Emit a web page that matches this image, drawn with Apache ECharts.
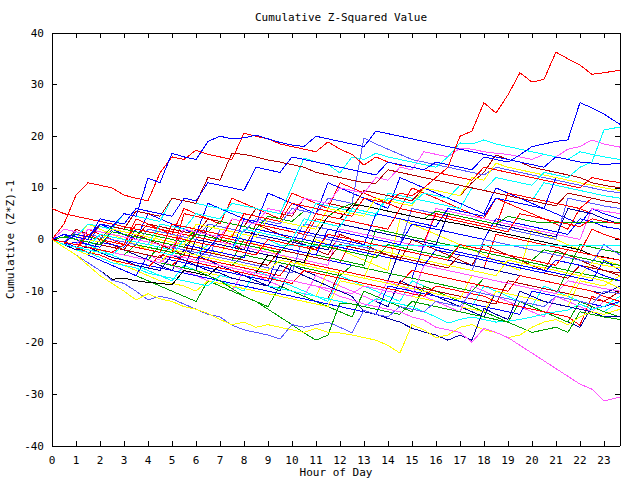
<!DOCTYPE html>
<html>
<head>
<meta charset="utf-8">
<script src="https://cdn.jsdelivr.net/npm/echarts@6/dist/echarts.min.js"></script>
<style>
  html, body { margin: 0; padding: 0; background: #fff; }
  #chart { width: 640px; height: 480px; }
  /* the original is drawn without anti-aliasing */
  #chart svg path { shape-rendering: crispEdges; }
</style>
</head>
<body>
<div id="chart"></div>
<script>
// hour of day for each sample
const hours = [0, 0.5, 1, 1.5, 2, 2.5, 3, 3.5, 4, 4.5, 5, 5.5, 6, 6.5, 7, 7.5,
  8, 8.5, 9, 9.5, 10, 10.5, 11, 11.5, 12, 12.5, 13, 13.5, 14, 14.5, 15, 15.5,
  16, 16.5, 17, 17.5, 18, 18.5, 19, 19.5, 20, 20.5, 21, 21.5, 22, 22.5, 23, 23.67]

const yTicks = [-40, -30, -20, -10, 0, 10, 20, 30, 40]

// cumulative (z*z)-1 per run
const run01 = [0, -0.5, -1, -1.5, -2, -2.5, -1, -1.5, -2, -2.5, 3, 2.5, 2, 1.5, 1, 0.5, 5, 4.5, 4, 3.5, 7, 6.5, 6, 5.5, 5, 4.5, 8, 7.5, 7, 9, 8.5, 10, 12, 14, 20, 21, 26.5, 24.5, 28, 32.3, 30.5, 31, 36.3, 35, 33.8, 32, 32.3, 32.8]
const run02 = [0, 1, 0.5, 0, 4, 3.5, 3, 6, 5.5, 5, 4.5, 8, 7.5, 11, 10.5, 10, 9.5, 14, 13.5, 13, 16, 15.5, 15, 14.5, 14, 13.5, 13, 12.5, 15, 14.5, 14, 13.5, 15, 14.5, 14, 13.5, 16, 15.5, 15, 16.4, 18, 18.5, 19, 19.3, 26.5, 25.5, 24.3, 22.3]
const run03 = [0, -0.5, -1, -1.5, -2, -2.5, -3, -3.5, -4, -4.5, -3, -3.5, -4, -4.5, -5, -5.5, -6, -6.5, -7, -7.5, -8, -8.5, -9, -10, -11, -11.7, -12.5, -13, -13.5, -14, -15, -15.6, -17, -17.5, -18, -19.9, -17.2, -18, -19, -20.5, -22, -23.5, -25, -26.5, -28, -29, -31.3, -30.5]
const run04 = [0, -1.5, -3, -5, -7, -8.5, -10, -11.7, -10.5, -11.5, -12, -13, -13.5, -14.3, -15.5, -16.5, -16, -17, -16.5, -17, -17.5, -18, -17.2, -18, -18.1, -18.5, -19, -19.5, -20.5, -22, -16.5, -17.5, -19, -18.5, -17, -16.5, -17.5, -18, -19, -18.5, -17, -16, -15.5, -16.5, -15, -14, -14.5, -13.5]
const run05 = [0, -0.5, 1, 0.5, 3, 2.5, 5, 4.5, 11.9, 11, 16.7, 16, 15.5, 19, 20, 19.5, 19.7, 20.2, 19.5, 18.8, 18.3, 18, 20, 19.5, 19, 18.5, 18, 21, 20.5, 20, 19.5, 19, 18.5, 18, 17.5, 17, 16.5, 16, 15.5, 15, 14.5, 14, 16, 15.5, 15, 14.8, 14.5, 14.8]
const run06 = [6, 5, 4.5, 4, 3.5, 3, 2.5, 2, 1.5, 1, 0.5, 0, -0.5, -1, -1.5, -2, -2.5, -3, 0, -0.5, -1, -1.5, -2, 1, 0.5, 0, -0.5, -1, -1.5, -2, -2.5, -3, -3.5, -4, -1, -1.5, -2, -2.5, -3, -3.5, -4, -4.5, -5, -2, -2.5, -3, -3.5, -4]
const run07 = [0, 3, 8.6, 11, 10.5, 10, 8.6, 8, 7.5, 12.9, 16, 15.5, 17.3, 16.5, 16, 15.5, 20.6, 20, 19.5, 18.5, 18, 17.5, 17, 18.9, 17.5, 16.5, 14.4, 16, 15, 14.4, 14, 13.5, 13, 12.5, 12, 11.5, 14, 13.5, 13, 12.5, 12, 11.5, 11, 10.5, 10, 12, 11.5, 11]
const run08 = [0, 1, 0.5, 0, 3, 2.5, 2, 5.5, 5, 4.5, 8, 7.5, 7, 12, 11.5, 16.7, 16.5, 16, 15.4, 15, 14.5, 14, 13, 12.5, 12, 11.5, 11, 10.9, 13.5, 13, 12.5, 12, 11.5, 11, 10.5, 10, 9.5, 9, 8.5, 8, 7.5, 7, 6.5, 9, 8.5, 8, 7.5, 7]
const run09 = [0, -0.5, -1, -1.5, 1, 0.5, 0, -0.5, -1, 3, 2.5, 2, 5, 4.5, 4, 7, 6.5, 6, 5.5, 5, 10.2, 15.8, 15, 14.5, 12.9, 16, 15.5, 16.7, 16, 15.5, 15, 14.5, 14, 16, 18.7, 18.5, 19.3, 18.5, 18, 17.5, 17, 16.5, 16, 15.5, 17, 16.5, 16, 15.5]
const run10 = [0, -1, -1.5, -2, -2.5, -3, -1, -1.5, -2, -2.5, -3, 0, -0.5, -1, -1.5, -2, 2, 1.5, 1, 0.5, 0, 4, 3.5, 3, 2.5, 6, 5.5, 5, 8, 7.5, 7, 9, 8.5, 8, 10.5, 10, 9.5, 12, 11.5, 11, 10.5, 13, 12.5, 12, 14, 15, 21.2, 21.8]
const run11 = [0, -0.5, -1, 2, 1.5, 1, 0.5, 0, -0.5, -1, -1.5, 2, 1.5, 1, 0.5, 4, 3.5, 3, 6, 5.5, 5, 8, 7.5, 7, 10, 9.5, 9, 12, 11.5, 14, 13.5, 17, 16.5, 16, 17.7, 17.5, 17, 16.7, 16.5, 16, 15.5, 16.5, 16, 17.5, 18, 19.3, 18.5, 17.9]
const run12 = [0, -1.5, -3, -4.5, -6, -7.9, -8.5, -10, -11.7, -11, -11.5, -12.5, -13.5, -14.5, -15, -16.6, -17.5, -18, -18.5, -19.3, -16.5, -17, -16.5, -16, -17, -18.1, -13.7, -14.5, -15, -13, -13.5, -14, -12, -12.5, -13, -10, -10.5, -11, -11.5, -12, -12.5, -13, -11, -11.5, -12, -12.5, -10, -10.5]
const run13 = [0, -0.5, -1, -1.5, -2, -2.5, -3, -3.5, -4, -4.5, -5, -5.5, -6, -7, -8, -9.5, -11, -12, -13.5, -15, -16.5, -18.1, -19.5, -18.5, -12.3, -12.5, -13, -13.5, -14, -14.5, -12, -12.5, -13, -13.5, -14, -14.5, -15, -15.5, -16, -17, -18, -17.5, -17, -18, -14, -14.5, -15, -15.5]
const run14 = [0, -1, -2, -1.5, -2.5, -3.5, -4, -5, -5.5, -6, -3, -4, -5, -6, -6.5, -7.5, -8, -8.5, -9, -5, -6, -7, -8, -9, -10, -11, -14, -14.5, -15.3, -16, -17.2, -17.9, -18.5, -19.5, -18.5, -19.5, -13.3, -14.5, -15.5, -10, -11, -12, -12.5, -13, -13.5, -14, -15, -15]
const run15 = [0, 0.5, 0, -0.5, -1, 1.5, 1, 0.5, 0, -0.5, -1, -1.5, 1, 0.5, 0, -0.5, -1, -1.5, -2, -2.5, 0, -0.5, -1, -1.5, -2, -2.5, -3, -3.5, -1, -1.5, -2, -2.5, -3, -3.5, -1, -1.5, -2, -2.5, -3, -3.5, -4, -2, -2.5, -3, -3.5, -4, -4.5, -5]
const run16 = [0, -1, -2, 1, 0, -0.5, -1, 3, 2.5, 2, 1.5, 1, 0.5, 0, -0.5, 4, 3.5, 3, 2.5, 2, 1.5, 1, 5, 4.5, 4, 3.5, 3, 2.5, 2, 6, 5.5, 5, 4.5, 4, 3.5, 3, 2.5, 2, 1.5, 5, 4.5, 4, 3.5, 3, 2.5, 4, 3.5, 3]
const run17 = [0, -0.5, -1, -1.5, -2, -2.5, -1, -1.5, -2, -2.5, -3, -3.5, -4, -2, -2.5, -3, -3.5, 2, 1.5, 1, 0.5, 0, -0.5, -1, -1.5, -2, -2.5, -3, -3.5, -4, -4.5, -5, -2, -2.5, -3, -3.5, -4, -4.5, -5, -5.5, -6, -6.5, -4, -4.5, -5, -6, -7, -8]
const run18 = [0, -0.5, -1, -1.5, -2, -2.5, -3, -3.5, -4, -4.5, -2, -2.5, -3, -3.5, -4, -4.5, -5, -5.5, -6, -4, -4.5, -5, -5.5, -6, -6.5, -7, -7.5, -2, -2.5, -3, -3.5, -4, -4.5, -5, -5.5, -6, -6.5, -7, -4, -4.5, -5, -5.5, -6, -6.5, -7, -4.5, -5, -5.5]
const run19 = [0, 1, 0.5, 0, -0.5, 2, 1.5, 1, 0.5, 0, -0.5, -1, 3, 2.5, 2, 1.5, 1, 0.5, 4, 3.5, 3, 2.5, 2, 6, 5.5, 5, 4.5, 8, 7.5, 7, 6.5, 10, 9.5, 9, 8.5, 12, 11.5, 14.8, 14, 13.5, 13, 12.5, 12, 11.5, 11, 10.5, 10, 9.5]
const run20 = [0, -0.5, -1, -1.5, 1, 0.5, 0, -0.5, -1, -1.5, -2, -2.5, -3, -1, -1.5, -2, -2.5, -3, 0, -1.1, -1.1, -1.1, -1.1, -1.1, -1.1, -1.1, -1.1, -1.1, -1.1, -1.1, -1.1, -1.1, -1.1, -1.1, -1.1, -1.1, -1.1, -1.1, -1.1, -1.1, -1.1, -1.1, -1.1, -1.1, -1.1, -1.1, -1.1, -1.1]
const run21 = [0, -1.5, -3, -4.5, -6, -7.7, -7.5, -8, -8.3, -8.5, -8.8, -6, -6.5, -7, -5, -5.5, -6, -6.5, -3, -3.5, -4, -4.5, 0.9, 4.5, 4, 6.7, 6.5, 6, 5.5, 5, 4.5, 4, 3.8, 3.4, 3, 2.5, 2, 1.5, 1, 0.5, 0, -0.5, -1, -1.5, -2, -3, -3.4, -4]
const run22 = [0, 0.5, 0, -0.5, -1, -1.5, -2, -2.5, -3, -3.5, -1, -1.5, -2, -2.5, -3, -3.5, -4, -4.5, -5, -2, -2.5, -3, -3.5, -4, -1, -1.5, -2, -2.5, -3, -3.5, -4, -4.5, -5, -5.5, -3, -3.5, -4, -4.5, -5, -5.5, -6, -6.5, -7, -7.5, -5, -5.5, -6, -6.5]
const run23 = [0, -0.5, -1, 1, 0.5, 0, -0.5, -1, 2, 1.5, 1, 0.5, 0, 3, 2.5, 2, 1.5, 4, 3.5, 3, 6, 5.5, 5, 8, 7.5, 7, 19.7, 18.5, 17.5, 16.5, 15.5, 15, 14.5, 14, 13.5, 13, 12.5, 14, 13.5, 13, 12.5, 12, 11.5, 11, 10.5, 10, 9.5, 9]
const run24 = [0, 0.5, 1, 0.5, 0, 2.5, 2, 1.5, 1, 0.5, 0, -0.5, 2, 1.5, 3.5, 3, 2.5, 2, 4.5, 4, 3.5, 5.5, 5, 4.5, 6, 7, 6.5, 6, 5.5, 5, 4.5, 4, 5.5, 5, 4.5, 4, 3.5, 3, 4.5, 4, 3.5, 3.2, 3.2, 3.2, 3.2, 3.2, 3.2, 3.2]
const run25 = [0, -0.5, -1, -1.5, -2, -2.5, -3, -3.5, -4, -4.5, -5, -3, -3.5, -4, -4.5, -5, -5.5, -6, -6.5, -7, -4, -4.5, -5, -5.5, -6, -6.5, -7, -7.5, -8, -8.5, -6, -6.5, -7, -7.5, -8, -8.5, -9, -9.5, -10, -7, -7.5, -8, -8.5, -9, -9.5, -10, -11, -12]
const run26 = [0, -1, -0.5, -1, -1.5, 2, 1.5, 1, 0.5, 0, -0.5, -1, -1.5, -2, 1, 0.5, 0, -0.5, -1, -1.5, -2, -2.5, -3, 2, 1.5, 1, 0.5, 0, -0.5, -1, 3, 2.5, 2, 1.5, 1, 0.5, 0, 4, 3.5, 3, 2.5, 2, 1.5, 1, 4, 3.5, 2.5, 2]
const run27 = [0, -0.5, -1, -1.5, -2, -2.5, -1, -1.5, -2, -2.5, -3, -3.5, -4, -4.5, -5, -5.5, -6, -6.5, -7, -7.5, -8, -8.5, -9, -9.5, -10, -10.5, -9, -9.5, -10, -10.5, -11, -5, -5.5, -6, -6.5, -7, -7.5, -8, -8.5, -9, -9.5, -10, -10.5, -8, -8.5, -9, -9.5, -10]
const run28 = [0, -1, -2, -2.5, -3.5, -4.5, -5, -5.5, -6.5, -7, -7.5, -8, -8.5, -9, -7, -7.5, -8, -8.5, -9, -9.5, -10, -10.5, -11, -11.5, -12, -12.5, -13, -11.5, -12, -12.5, -13, -14, -15, -16.2, -15.5, -15, -15.5, -16, -15.8, -15.5, -15, -14.5, -14, -13.7, -12.5, -13.5, -13, -11]
const run29 = [0, 0.5, 0, -0.5, -1, 1.5, 1, 0.5, 3, 2.5, 2, 1.5, 1, 4, 3.5, 3, 2.5, 6, 5.5, 5, 4.5, 8, 7.5, 7, 6.5, 6, 9.5, 9, 8.5, 8, 7.5, 10, 9.5, 9, 8.5, 11, 13, 16.4, 15.5, 15, 14, 13.5, 13, 12.5, 12, 11, 10.5, 10]
const run30 = [0, -1, -1.5, -2.5, -3, -4, -4.5, -5, -5.5, -3, -3.5, -4, -4.5, -5, -5.5, -6, -6.5, -7, -7.5, -8, -8.5, -6, -6.5, -7, -7.5, -8, -8.5, -9, -9.5, -10, -10.5, -11, -9, -9.5, -10, -10.5, -11, -12, -12.5, -13, -13.5, -14, -14.5, -15, -16.6, -11, -12, -13]
const run31 = [0, -0.5, -1, -1.5, -2, -2.5, -3, -1, -1.5, -2, -2.5, -3, -3.5, -4, -4.5, -5, -3, -3.5, -4, -4.5, -5, -5.5, -6, -6.5, -7, -5, -5.5, -6, -6.5, -7, -7.5, -8, -8.5, -9, -9.5, -10, -7.5, -8, -8.5, -9, -9.5, -10, -10.5, -6, -6.5, -7, -7.5, -8]
const run32 = [0, -1, -2, -3, -2, -2.5, -3, -3.5, -4, -4.5, -5, -5.5, -6, -6.5, -7, -7.5, -8, -8.5, -9, -9.5, -10, -10.5, -11, -6, -6.5, -7, -7.5, -8, -8.5, -9, -9.5, -10, -10.5, -11, -11.5, -7, -7.5, -8, -8.5, -9, -9.5, -10, -10.5, -11, -7, -7.5, -8, -9.5]
const run33 = [0, 1, 0.5, 0, -0.5, -1, -1.5, 2, 1.5, 1, 0.5, 0, -0.5, -1, -1.5, -2, 4, 3.5, 3, 2.5, 2, 1.5, 1, 0.5, 0, -0.5, -1, 5, 4.5, 4, 3.5, 3, 2.5, 6, 5.5, 5, 4.5, 8, 7.5, 7, 6.5, 6, 12, 11.5, 11, 10.5, 10, 9.5]
const run34 = [0, -0.5, -1, -1.5, -2, -2.5, -3, -3.5, -4, -4.5, -5, -5.5, -6, 3, 2.5, 2, 1.5, 1, 0.5, 0, -0.5, -1, -1.5, -2, 3, 2.5, 2, 1.5, 1, 0.5, 0, -0.5, -1, 5, 4.5, 4, 3.5, 3, 2.5, 2, 1.5, 1, 0.5, 6, 5.5, 5, 4, 3]
const run35 = [0, -0.5, -1, 2, 1.5, 1, 0.5, 0, -0.5, -1, -1.5, -2, -2.5, -3, -3.5, -4, -4.5, -5, -5.5, -6, -6.5, 1, 0.5, 0, -0.5, -1, -1.5, -2, -2.5, -3, -3.5, -4, -4.5, -5, -5.5, -6, 0, -0.5, -1, -1.5, -2, -2.5, -3, -3.5, -4, -4.5, -1, -3]
const run36 = [0, 0.5, 1, 0.5, 0, -0.5, -1, -1.5, -2, -2.5, -3, 5, 4.5, 4, 3.5, 3, 2.5, 2, 1.5, 1, 0.5, 0, 4, 3.5, 3, 2.5, 2, 1.5, 1, 0.5, 0, -0.5, 5, 4.5, 4, 3.5, 3, 2.5, 9, 8.5, 8, 7.5, 7, 6.5, 6, 8, 7.5, 7]
const run37 = [0, 2, 1.5, 1, 0.5, 0, -0.5, -1, -1.5, -2, -2.5, 1, 0.5, 0, -0.5, -1, -1.5, -2, -2.5, -3, -3.5, -4, -4.5, -5, 2, 1.5, 1, 0.5, 0, -0.5, -1, -1.5, 6, 5.5, 5, 4.5, 4, 3.5, 3, 2.5, 2, 1.5, 1, 0.5, 0, 6, 5.5, 5]
const run38 = [0, -0.5, -1, -1.5, -2, -2.5, -3, -3.5, -4, -1, -1.5, -2, -2.5, -3, -3.5, -4, 0, -0.5, -1, -1.5, -2, -2.5, -3, -3.5, -4, -4.5, -5, 2, 1.5, 1, 0.5, 0, -0.5, -1, -1.5, -2, -2.5, -3, -3.5, -4, -4.5, -5, -5.5, -6, -1, -1.5, -2, -2.5]
const run39 = [0, 1, 0.5, 3, 2.5, 2, 5, 4.5, 4, 3.5, 8, 7.5, 7, 6.5, 6, 5.5, 5, 4.5, 4, 3.5, 3, 2.5, 7, 6.5, 6, 5.5, 5, 4.5, 9, 8.5, 8, 7.5, 7, 6.5, 6, 10, 9.5, 9, 8.5, 8, 7.5, 11, 10.5, 10, 9.5, 9, 8.5, 8]
const run40 = [0, -0.5, -1, -1.5, -2, -2.5, -3, -3.5, -4, -4.5, -5, -5.5, -6, -6.5, -7, -7.5, -8, -8.5, -9, -9.5, -10, -10.5, -11, -11.5, -6, -6.5, -7, -7.5, -8, -8.5, -9, -9.5, -10, -10.5, -11, -11.5, -12, -12.5, -8, -8.5, -9, -9.5, -10, -10.5, -11, -11.5, -12, -10]
const run41 = [0, -1, -2, -3, -4, -5, -6, -7, -3, -3.5, -4, -4.5, -5, -5.5, -6, -6.5, -7, -7.5, -8, -2, -2.5, -3, -3.5, -4, -4.5, -5, -5.5, -6, -6.5, -7, -7.5, -1, -1.5, -2, -2.5, -3, -3.5, -4, -4.5, -5, -5.5, -6, -6.5, -7, -7.5, -8, -4, -6]
const run42 = [0, -0.5, 1.5, 1, 0.5, 0, -0.5, -1, -1.5, -2, -2.5, -3, -3.5, -4, 2, 1.5, 1, 0.5, 0, -0.5, -1, 3, 2.5, 2, 1.5, 1, 0.5, 0, -0.5, -1, 6, 5.5, 5, 4.5, 4, 3.5, 3, 2.5, 2, 1.5, 1, 0.5, 0, 8, 7.5, 7, 6.5, 6]
const run43 = [0, -1, -1.5, -2.5, -3, -4, -5, -6, -7, -8, -8.5, -9, -10, -8, -8.5, -9, -9.5, -10, -10.5, -11, -11.5, -12, -12.5, -13, -8, -8.5, -9, -9.5, -10, -10.5, -11, -11.5, -12, -12.5, -13, -13.5, -14, -10, -10.5, -11, -11.5, -12, -12.5, -13, -8, -8.5, -9, -7]
const run44 = [0, -0.5, -1, -1.5, -2, -2.5, -3, -3.5, -4, -4.5, -5, -5.5, 0, -0.5, -1, -1.5, -2, -2.5, -3, -3.5, -4, -4.5, -5, -5.5, -6, -6.5, -7, -7.5, -8, -2, -2.5, -3, -3.5, -4, -4.5, -5, -5.5, -6, -6.5, -7, -7.5, -8, -8.5, -9, -9.5, -10, -10.5, -9]
const run45 = [0, -0.5, -1, -1.5, 1, 0.5, 0, -0.5, -1, -1.5, -2, 2, 1.5, 1, 0.5, 0, -0.5, -1, -1.5, -2, -2.5, -3, -3.5, -4, -4.5, 0, -0.5, -1, -1.5, -2, -2.5, -3, -3.5, -4, -4.5, -5, -5.5, 1, 0.5, 0, -0.5, -1, -1.5, -2, -2.5, 2, 1, 0]
const run46 = [0, -0.5, -1.5, -2, -2.5, -3.5, -4, -4.5, -5, -5.5, -6, -6.5, -7, -7.5, -8, -8.5, -9, -9.5, -10, -10.5, -11, -11.5, -12, -12.5, -13, -13.5, -14, -14.5, -9, -9.5, -10, -10.5, -11, -11.5, -12, -12.5, -13, -13.5, -14, -14.5, -10, -10.5, -11, -11.5, -12, -12.5, -13, -12]
const run47 = [0, -1, -2, 2, 1, 0, -1, 4, 3, 2, 1, 6, 5, 4, 3, 8, 7, 6, 5, 4, 9, 8, 7, 6, 11, 10, 9, 8, 7, 6, 10, 9, 8, 7, 6, 5, 4, 8, 7, 6, 5, 4, 3, 2, 6, 5, 4, 3]
const run48 = [0, -1, -2, -3, -4, -5, -6, -7, -8, -9, -10, -11, -12, -8, -9, -10, -11, -12, -13, -9, -10, -11, -12, -13, -14, -15, -10, -11, -12, -13, -14, -9, -10, -11, -12, -13, -14, -15, -16, -12, -13, -14, -15, -16, -12, -13, -14, -15]
const run49 = [0, -1, -2, -3, -4, -5, -6, -7, -3, -4, -5, -6, -7, -8, -9, -10, -6, -7, -8, -9, -10, -11, -7, -8, -9, -10, -11, -12, -8, -9, -10, -11, -12, -13, -14, -9, -10, -11, -12, -13, -14, -15, -11, -12, -13, -14, -12, -13]
const run50 = [0, 1, 0, -1, 3, 2, 1, 0, 5, 4, 3, 2, 1, 7, 6, 5, 4, 3, 9, 8, 7, 6, 5, 11, 10, 9, 8, 7, 6, 12, 11, 10, 9, 8, 7, 6, 5, 10, 9, 8, 7, 6, 5, 4, 3, 6, 5, 4]
const run51 = [0, -1, -2, -1, -2, -3, -4, -5, -6, -7, -8, -5, -6, -7, -8, -9, -10, -6, -7, -8, -9, -10, -11, -12, -7, -8, -9, -10, -11, -12, -8, -9, -10, -11, -12, -13, -9, -10, -11, -12, -13, -9, -10, -11, -12, -13, -14, -12]
const run52 = [0, -1, 2, 1, 0, -1, -2, 1, 0, -1, -2, -3, 2, 1, 0, -1, -2, 3, 2, 1, 0, -1, -2, -3, 1, 0, -1, -2, -3, -4, 0, -1, -2, -3, -4, -5, -1, -2, -3, -4, -5, -6, -2, -3, -4, -5, -6, -7]
const run53 = [0, -1, -2, -3, 0, -1, -2, -3, -4, -5, -6, -2, -3, -4, -5, -6, -7, -8, -9, -10, -5, -6, -7, -8, -9, -10, -11, -12, -13, -8, -9, -10, -11, -12, -13, -14, -15, -10, -11, -12, -13, -14, -15, -16, -17, -13, -14, -15]
const run54 = [0, 1, 0, 3, 2, 1, 0, -1, -2, 2, 1, 0, -1, -2, -3, 1, 0, -1, -2, -3, -4, -5, 0, -1, -2, -3, -4, -5, -6, 4, 3, 2, 1, 0, -1, -2, -3, -4, -5, -6, 2, 1, 0, -1, -2, -3, -4, -5]

const runs = [run01, run02, run03, run04, run05, run06, run07, run08, run09, run10,
  run11, run12, run13, run14, run15, run16, run17, run18, run19, run20,
  run21, run22, run23, run24, run25, run26, run27, run28, run29, run30,
  run31, run32, run33, run34, run35, run36, run37, run38, run39, run40,
  run41, run42, run43, run44, run45, run46, run47, run48, run49, run50,
  run51, run52, run53, run54]

const RED = '#ff0000'
const DKRED = '#b00000'
const GREEN = '#00a000'
const BLUE = '#0000ff'
const NAVY = '#0000a0'
const PERI = '#5a5aff'
const CYAN = '#00ffff'
const MAGENTA = '#ff55ff'
const YELLOW = '#ffff00'
const BLACK = '#000000'

const runColors = [RED, BLUE, MAGENTA, YELLOW, BLUE, RED, RED, DKRED, CYAN, CYAN,
  MAGENTA, PERI, GREEN, NAVY, GREEN, RED, BLUE, YELLOW, YELLOW, CYAN,
  BLACK, DKRED, PERI, GREEN, RED, BLUE, MAGENTA, CYAN, DKRED, RED,
  GREEN, YELLOW, BLUE, NAVY, PERI, RED, MAGENTA, GREEN, CYAN, DKRED,
  BLUE, PERI, YELLOW, NAVY, RED, BLUE, RED, GREEN, MAGENTA, BLUE,
  CYAN, DKRED, NAVY, YELLOW]

const FONT = 'DejaVu Sans Mono'

const buildSeries = () => runs.map((vals, idx) => ({
  type: 'line',
  showSymbol: false,
  symbol: 'none',
  silent: true,
  lineStyle: { width: 1, color: runColors[idx] },
  data: vals.map((v, i) => [hours[i], v])
})).reverse()

const frameAxis = (extra) => Object.assign({
  type: 'value',
  axisLine: { show: true, onZero: false, lineStyle: { color: '#000', width: 1 } },
  axisTick: { show: true, inside: true, length: 5, lineStyle: { color: '#000' } },
  splitLine: { show: false },
  axisLabel: { show: false }
}, extra)

const chart = echarts.init(document.getElementById('chart'), null, { renderer: 'svg' })
chart.setOption({
  animation: false,
  backgroundColor: '#fff',
  textStyle: { fontFamily: FONT },
  title: {
    text: 'Cumulative Z-Squared Value',
    left: 336,
    textAlign: 'center',
    top: 7,
    textStyle: { fontFamily: FONT, fontSize: 11, fontWeight: 'normal', color: '#000' }
  },
  grid: { left: 52, right: 20, top: 33, bottom: 34, outerBoundsMode: 'none', containLabel: false },
  xAxis: [
    frameAxis({
      position: 'bottom',
      min: 0,
      max: 23.67,
      interval: 1,
      name: 'Hour of Day',
      nameLocation: 'middle',
      nameGap: 21,
      nameMoveOverlap: false,
      nameTextStyle: { fontFamily: FONT, fontSize: 11, color: '#000' },
      axisLabel: {
        show: true,
        showMaxLabel: false,
        margin: 9,
        fontFamily: FONT,
        fontSize: 11,
        color: '#000',
        formatter: (v) => (Number.isInteger(v) ? String(v) : '')
      }
    }),
    frameAxis({ position: 'top', min: 0, max: 23.67, interval: 1 })
  ],
  yAxis: [
    frameAxis({
      position: 'left',
      min: yTicks[0],
      max: yTicks[yTicks.length - 1],
      interval: 10,
      name: 'Cumulative (Z*Z)-1',
      nameLocation: 'middle',
      nameRotate: 90,
      nameGap: 36,
      nameMoveOverlap: false,
      nameTextStyle: { fontFamily: FONT, fontSize: 11, color: '#000' },
      axisLabel: { show: true, margin: 8, fontFamily: FONT, fontSize: 11, color: '#000' }
    }),
    frameAxis({ position: 'right', min: yTicks[0], max: yTicks[yTicks.length - 1], interval: 10 })
  ],
  series: buildSeries()
})
</script>
</body>
</html>
